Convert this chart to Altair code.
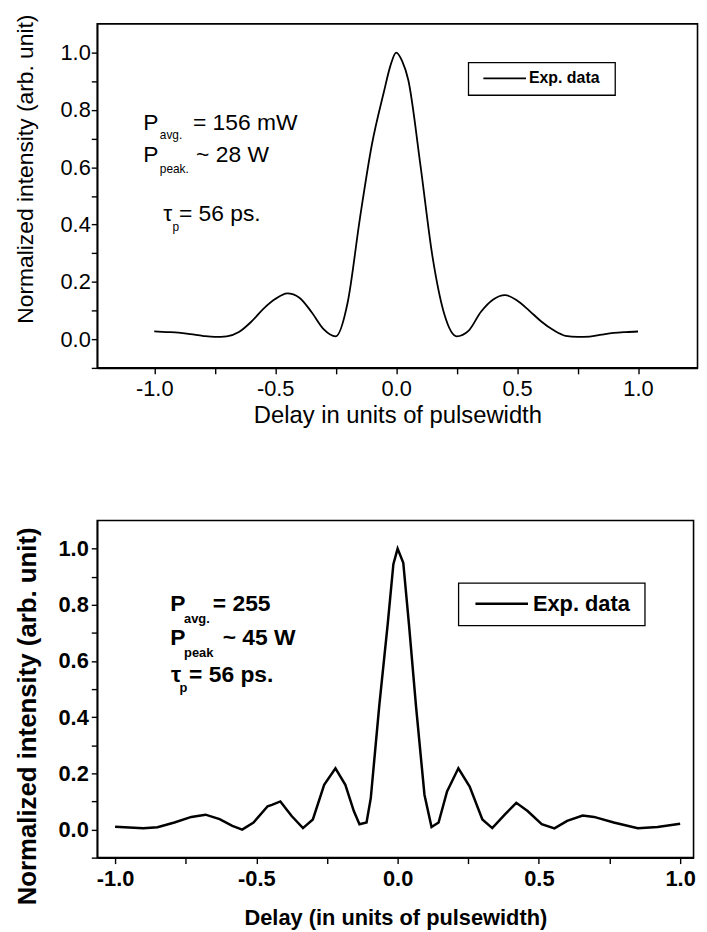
import altair as alt
import pandas as pd

# ---------------- data ----------------
top_delay = [-1.00, -0.95, -0.90, -0.85, -0.80, -0.75, -0.70, -0.65, -0.60, -0.55,
             -0.50, -0.45, -0.40, -0.35, -0.30, -0.25, -0.20, -0.15, -0.10, -0.05,
             -0.025, 0.00, 0.025, 0.05, 0.10, 0.15, 0.20, 0.25, 0.30, 0.35, 0.40,
             0.45, 0.50, 0.55, 0.60, 0.65, 0.70, 0.75, 0.80, 0.85, 0.90, 0.95, 1.00]
top_intensity = [0.027, 0.025, 0.023, 0.018, 0.012, 0.008, 0.010, 0.025, 0.060, 0.105,
                 0.140, 0.160, 0.145, 0.095, 0.035, 0.010, 0.130, 0.420, 0.680, 0.865,
                 0.950, 1.000, 0.970, 0.905, 0.610, 0.290, 0.085, 0.010, 0.030, 0.095, 0.138,
                 0.154, 0.135, 0.100, 0.062, 0.032, 0.012, 0.008, 0.009, 0.016, 0.022, 0.025, 0.027]

bottom_delay = [-1.00, -0.95, -0.90, -0.85, -0.79, -0.73, -0.68, -0.63, -0.585, -0.55,
                -0.51, -0.46, -0.445, -0.415, -0.375, -0.335, -0.30, -0.26, -0.22, -0.185,
                -0.155, -0.135, -0.11, -0.095, -0.065, -0.035, -0.015, 0.00, 0.02, 0.04,
                0.065, 0.095, 0.12, 0.145, 0.175, 0.215, 0.255, 0.30, 0.335, 0.38,
                0.42, 0.46, 0.51, 0.555, 0.60, 0.655, 0.695, 0.765, 0.85, 0.92, 1.00]
bottom_intensity = [0.010, 0.007, 0.005, 0.008, 0.025, 0.045, 0.053, 0.037, 0.013, 0.000,
                    0.025, 0.083, 0.088, 0.100, 0.048, 0.005, 0.036, 0.159, 0.218, 0.159,
                    0.066, 0.019, 0.025, 0.112, 0.440, 0.732, 0.945, 1.000, 0.950, 0.732,
                    0.440, 0.124, 0.009, 0.025, 0.136, 0.218, 0.153, 0.036, 0.005, 0.054,
                    0.095, 0.066, 0.019, 0.004, 0.031, 0.050, 0.045, 0.025, 0.005, 0.009, 0.021]

series_name = "Exp. data"
x_title_top = "Delay in units of pulsewidth"
x_title_bottom = "Delay (in units of pulsewidth)"
y_title = "Normalized intensity (arb. unit)"

# annotation texts (main line text and subscripts)
top_main_text = ["P", "= 156 mW", "P", "~ 28 W", "τ", "= 56 ps."]
top_sub_text = ["avg.", "peak.", "p"]
bottom_main_text = ["P", "=  255", "P", "~ 45 W", "τ", "= 56 ps."]
bottom_sub_text = ["avg.", "peak", "p"]

# annotation anchor positions, in data units (delay, intensity)
top_main_pos = [(-1.045, 0.731), (-0.840, 0.731), (-1.045, 0.617), (-0.827, 0.617),
                (-0.963, 0.414), (-0.898, 0.414)]
top_sub_pos = [(-0.977, 0.697), (-0.977, 0.579), (-0.925, 0.379)]
bottom_main_pos = [(-0.805, 0.779), (-0.654, 0.779), (-0.805, 0.656), (-0.619, 0.656),
                   (-0.802, 0.526), (-0.738, 0.526)]
bottom_sub_pos = [(-0.756, 0.737), (-0.756, 0.614), (-0.772, 0.489)]

FONT = "Liberation Sans, Arial, Helvetica, sans-serif"


def tick_values(lo, hi, step):
    n = int(round((hi - lo) / step))
    return [round(lo + i * step, 4) for i in range(n + 1)]


def panel(delay, intensity, xdom, xticks, width, height, xtitle, st,
          main_text, main_pos, sub_text, sub_pos):
    df = pd.DataFrame({"delay": delay, "intensity": intensity, "series": series_name})
    xlab = ("(abs(datum.value*2 - round(datum.value*2)) < 0.001 && abs(datum.value) <= 1.0001)"
            " ? replace(format(datum.value, '.1f'), '\u2212', '-') : ''")
    ylab = ("(datum.value > -0.001 && datum.value < 1.001 && abs(datum.value*5 - round(datum.value*5)) < 0.001)"
            " ? format(datum.value, '.1f') : ''")
    common = dict(grid=False, domainColor="black", domainWidth=1.6, tickColor="black",
                  tickWidth=1.4, tickSize=6, labelColor="black", labelFont=FONT,
                  labelFontWeight=st["weight"], labelFontSize=st["fs"], titleFont=FONT,
                  titleColor="black", labelOverlap=False, labelFlush=False)
    x = alt.X("delay:Q", scale=alt.Scale(domain=xdom, nice=False, zero=False),
              axis=alt.Axis(title=xtitle, values=xticks, labelExpr=xlab,
                            labelPadding=st["xlab_pad"], titlePadding=st["xtitle_pad"],
                            titleFontSize=st["xtitle_fs"], titleFontWeight=st["title_weight"],
                            **common))
    y = alt.Y("intensity:Q", scale=alt.Scale(domain=[-0.1, 1.1], nice=False, zero=False),
              axis=alt.Axis(title=y_title, values=tick_values(-0.1, 1.0, 0.1), labelExpr=ylab,
                            labelPadding=st["ylab_pad"], titlePadding=st["ytitle_pad"],
                            titleFontSize=st["ytitle_fs"], titleFontWeight=st["title_weight"],
                            titleY=st["ytitle_y"], **common))
    line = alt.Chart(df).mark_line(color="black", strokeWidth=st["line_w"],
                                   interpolate=st["interp"]).encode(x=x, y=y)

    mdf = pd.DataFrame({"t": main_text, "delay": [p[0] for p in main_pos],
                        "intensity": [p[1] for p in main_pos]})
    sdf = pd.DataFrame({"t": sub_text, "delay": [p[0] for p in sub_pos],
                        "intensity": [p[1] for p in sub_pos]})
    main = alt.Chart(mdf).mark_text(align="left", baseline="alphabetic", font=FONT,
                                    fontWeight=st["weight"], fontSize=st["ann_fs"],
                                    color="black").encode(x=x, y=y, text="t:N")
    sub = alt.Chart(sdf).mark_text(align="left", baseline="alphabetic", font=FONT,
                                   fontWeight=st["weight"], fontSize=st["sub_fs"],
                                   color="black").encode(x=x, y=y, text="t:N")

    ldf = pd.DataFrame({"series": [series_name]})
    bx0, by0, bx1, by1 = st["legend_box"]
    lx0, lx1, ly = st["legend_line"]
    box = alt.Chart(ldf).mark_rect(fill="white", stroke="black", strokeWidth=1.3).encode(
        x=alt.value(bx0), x2=alt.value(bx1), y=alt.value(by0), y2=alt.value(by1))
    sym = alt.Chart(ldf).mark_rule(color="black", strokeWidth=st["line_w"]).encode(
        x=alt.value(lx0), x2=alt.value(lx1), y=alt.value(ly))
    lab = alt.Chart(ldf).mark_text(align="left", baseline="middle", font=FONT,
                                   fontWeight="bold", fontSize=st["legend_fs"],
                                   color="black").encode(
        x=alt.value(st["legend_text_x"]), y=alt.value(ly), text="series:N")

    return alt.layer(line, main, sub, box, sym, lab).properties(width=width, height=height)


# plot-area left edge is shared (about 98 px); legend positions are relative to it
top_style = dict(weight="normal", fs=22, ann_fs=23, sub_fs=12, xtitle_fs=24, ytitle_fs=23,
                 title_weight="normal", line_w=1.8, interp="monotone",
                 legend_box=(374.5, 39, 522.5, 72), legend_line=(389.5, 432.5, 55),
                 legend_text_x=435.5, legend_fs=16,
                 ylab_pad=1, ytitle_pad=22.7, ytitle_y=146, xlab_pad=5, xtitle_pad=4)
bottom_style = dict(weight="bold", fs=22, ann_fs=23, sub_fs=13, xtitle_fs=22, ytitle_fs=26,
                    title_weight="bold", line_w=2.5, interp="linear",
                    legend_box=(364.5, 63, 552.5, 106), legend_line=(381.5, 434.5, 84),
                    legend_text_x=439.5, legend_fs=22,
                    ylab_pad=3, ytitle_pad=17.7, ytitle_y=197, xlab_pad=5, xtitle_pad=18)

top = panel(top_delay, top_intensity, [-1.2357, 1.2459], tick_values(-1.0, 1.0, 0.25), 605.5, 347,
            x_title_top, top_style, top_main_text, top_main_pos, top_sub_text, top_sub_pos)

bottom = panel(bottom_delay, bottom_intensity, [-1.0632, 1.0474], tick_values(-1.0, 1.0, 0.25), 601.5, 340,
               x_title_bottom, bottom_style, bottom_main_text, bottom_main_pos,
               bottom_sub_text, bottom_sub_pos)

chart = alt.vconcat(top, bottom, spacing=92).resolve_scale(
    x="independent", y="independent"
).properties(
    padding={"left": 5, "top": 1, "right": 0, "bottom": 0},
    background="white",
).configure_view(stroke="black", strokeWidth=1.6)

chart.save("out.html", embed_options={"renderer": "svg", "actions": False})
